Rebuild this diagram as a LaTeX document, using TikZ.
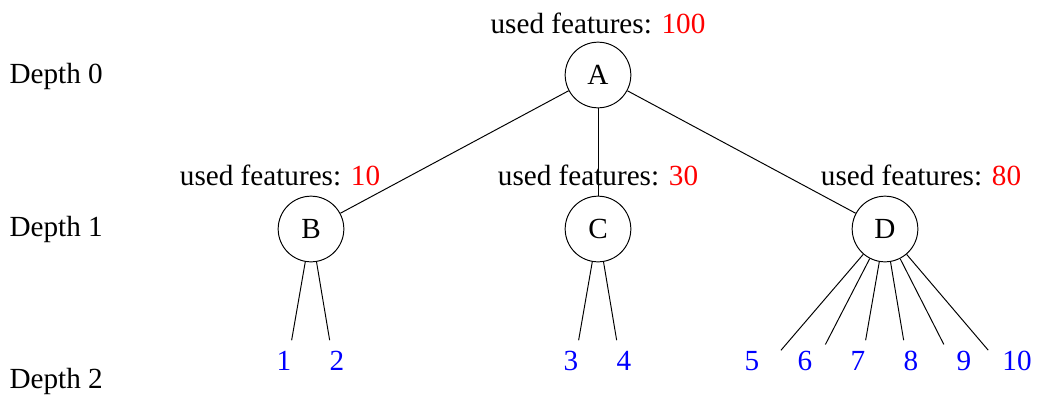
\documentclass[tikz,border=0pt]{standalone}
\usepackage{fontspec}
\setmainfont{Liberation Serif}
\usetikzlibrary{calc}
\tikzset{
	treenode/.style={draw, circle, minimum size=27pt, inner sep=0pt},
	leafnode/.style={circle, minimum size=1.27cm, inner sep=0pt, text height=8pt, text depth=18.8pt, text=blue},
	usedlabel/.style={anchor=base},
	depthlabel/.style={anchor=base west}
}
\newcommand{\usedf}[1]{used features: \textcolor{red}{#1}}

\begin{document}
\begin{tikzpicture}[x=0.01445cm, y=-0.01445cm, font=\fontsize{12}{14}\selectfont]
			%%%%% START %%%%%
			\useasboundingbox (0, 0) rectangle (1038, 396);
			
			\node[depthlabel] (d0) at (1, 83) {Depth 0};
			\node[depthlabel] (d1) at (1, 236) {Depth 1};
			\node[depthlabel] (d2) at (1, 388) {Depth 2};
			
			\node[treenode] (A) at (598, 75) {A};
			\node[treenode] (B) at (311, 229) {B};
			\node[treenode] (C) at (598, 229) {C};
			\node[treenode] (D) at (885, 229) {D};
			
			\draw (A) -- (B);
			\draw (A) -- (C);
			\draw (A) -- (D);
			
			\node[usedlabel] (uA) at (598, 33) {\usedf{100}};
			\node[usedlabel] (uB) at (280, 185) {\usedf{10}};
			\node[usedlabel] (uC) at (598, 185) {\usedf{30}};
			\node[usedlabel] (uD) at (921, 185) {\usedf{80}};
			
			\node[leafnode] (l1) at (284, 384) {1};
			\node[leafnode] (l2) at (337, 384) {2};
			\node[leafnode] (l3) at (571, 384) {3};
			\node[leafnode] (l4) at (624, 384) {4};
			\foreach \i [count=\k from 0] in {5,...,10}
				\node[leafnode] (l\i) at (752+53*\k, 384) {\i};
			
			\draw (B) -- (l1);
			\draw (B) -- (l2);
			\draw (C) -- (l3);
			\draw (C) -- (l4);
			\foreach \i in {5,...,10}
				\draw (D) -- (l\i);
			
			%%%%% END %%%%%
\end{tikzpicture}
\end{document}
